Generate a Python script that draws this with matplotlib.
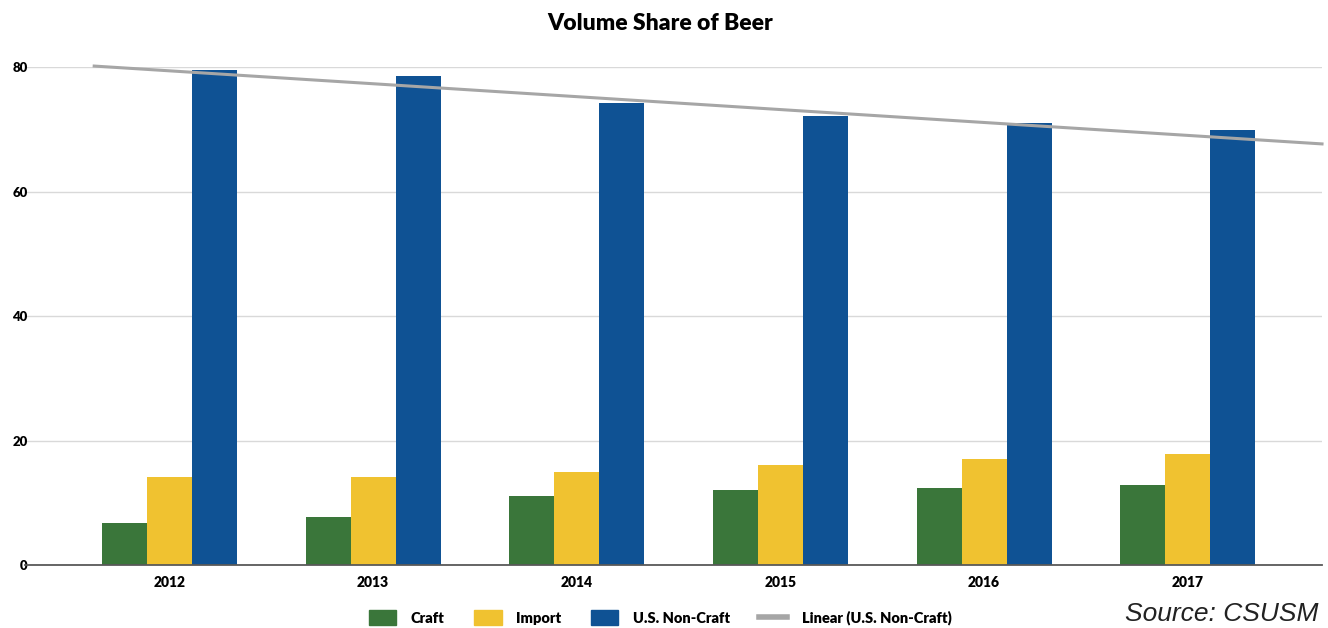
import matplotlib
matplotlib.use("Agg")
import matplotlib.pyplot as plt
import numpy as np
from matplotlib.lines import Line2D
from matplotlib.patches import Patch

years = ["2012", "2013", "2014", "2015", "2016", "2017"]
craft = [6.7, 7.7, 11.1, 12.0, 12.3, 12.8]
imports = [14.1, 14.1, 14.9, 16.1, 17.0, 17.8]
non_craft = [79.5, 78.5, 74.2, 72.1, 71.0, 69.9]
yticks = [0, 20, 40, 60, 80]

c_craft = "#3A763A"
c_import = "#F0C230"
c_noncraft = "#0F5294"
c_trend = "#A6A6A6"

plt.rcParams['font.family'] = ['Lato', 'DejaVu Sans']

fig = plt.figure(figsize=(13.28, 6.28), dpi=100)
ax = fig.add_axes([0.0188, 0.1003, 0.9767, 0.793])

x = np.arange(len(years))
w = 0.221
ax.bar(x - w, craft, w, color=c_craft, zorder=3)
ax.bar(x, imports, w, color=c_import, zorder=3)
ax.bar(x + w, non_craft, w, color=c_noncraft, zorder=3)

# linear trendline of U.S. Non-Craft (with backward/forward forecast)
slope, icpt = np.polyfit(x, non_craft, 1)
tx = np.array([-0.37, 5.66])
ax.plot(tx, slope * tx + icpt, color=c_trend, lw=2.2, zorder=4, clip_on=False)

ax.set_xlim(-0.71, 5.66)
ax.set_ylim(0, 80)
ax.set_yticks(yticks)
ax.set_yticklabels([str(v) for v in yticks], fontsize=9.5, fontweight='heavy')
ax.set_xticks(x)
ax.set_xticklabels(years, fontsize=10, fontweight='heavy')
ax.tick_params(axis='both', length=0)
ax.tick_params(axis='y', pad=-2)
ax.tick_params(axis='x', pad=8)
ax.grid(axis='y', color='#D9D9D9', lw=1, zorder=0)
for s in ['top', 'right', 'left']:
    ax.spines[s].set_visible(False)
ax.spines['bottom'].set_color('#595959')
ax.spines['bottom'].set_linewidth(1.3)
ax.spines['bottom'].set_zorder(5)

fig.text(0.497, 0.963, "Volume Share of Beer", ha='center', va='center',
         fontsize=16.5, fontweight='heavy')

handles = [Patch(color=c_craft), Patch(color=c_import), Patch(color=c_noncraft),
           Line2D([0], [0], color=c_trend, lw=4)]
labels = ["Craft", "Import", "U.S. Non-Craft", "Linear (U.S. Non-Craft)"]
fig.legend(handles, labels, loc='center', bbox_to_anchor=(0.497, 0.016), ncol=4,
           frameon=False, prop={'size': 10.5, 'weight': 'heavy'},
           handlelength=1.9, handleheight=1.2, columnspacing=2.0, handletextpad=1.0)

fig.text(0.993, 0.022, "Source: CSUSM", ha='right', va='center', fontsize=19,
         fontstyle='italic', family=['Liberation Sans', 'DejaVu Sans'], color='#222222')

fig.savefig("out.png", dpi=100)
